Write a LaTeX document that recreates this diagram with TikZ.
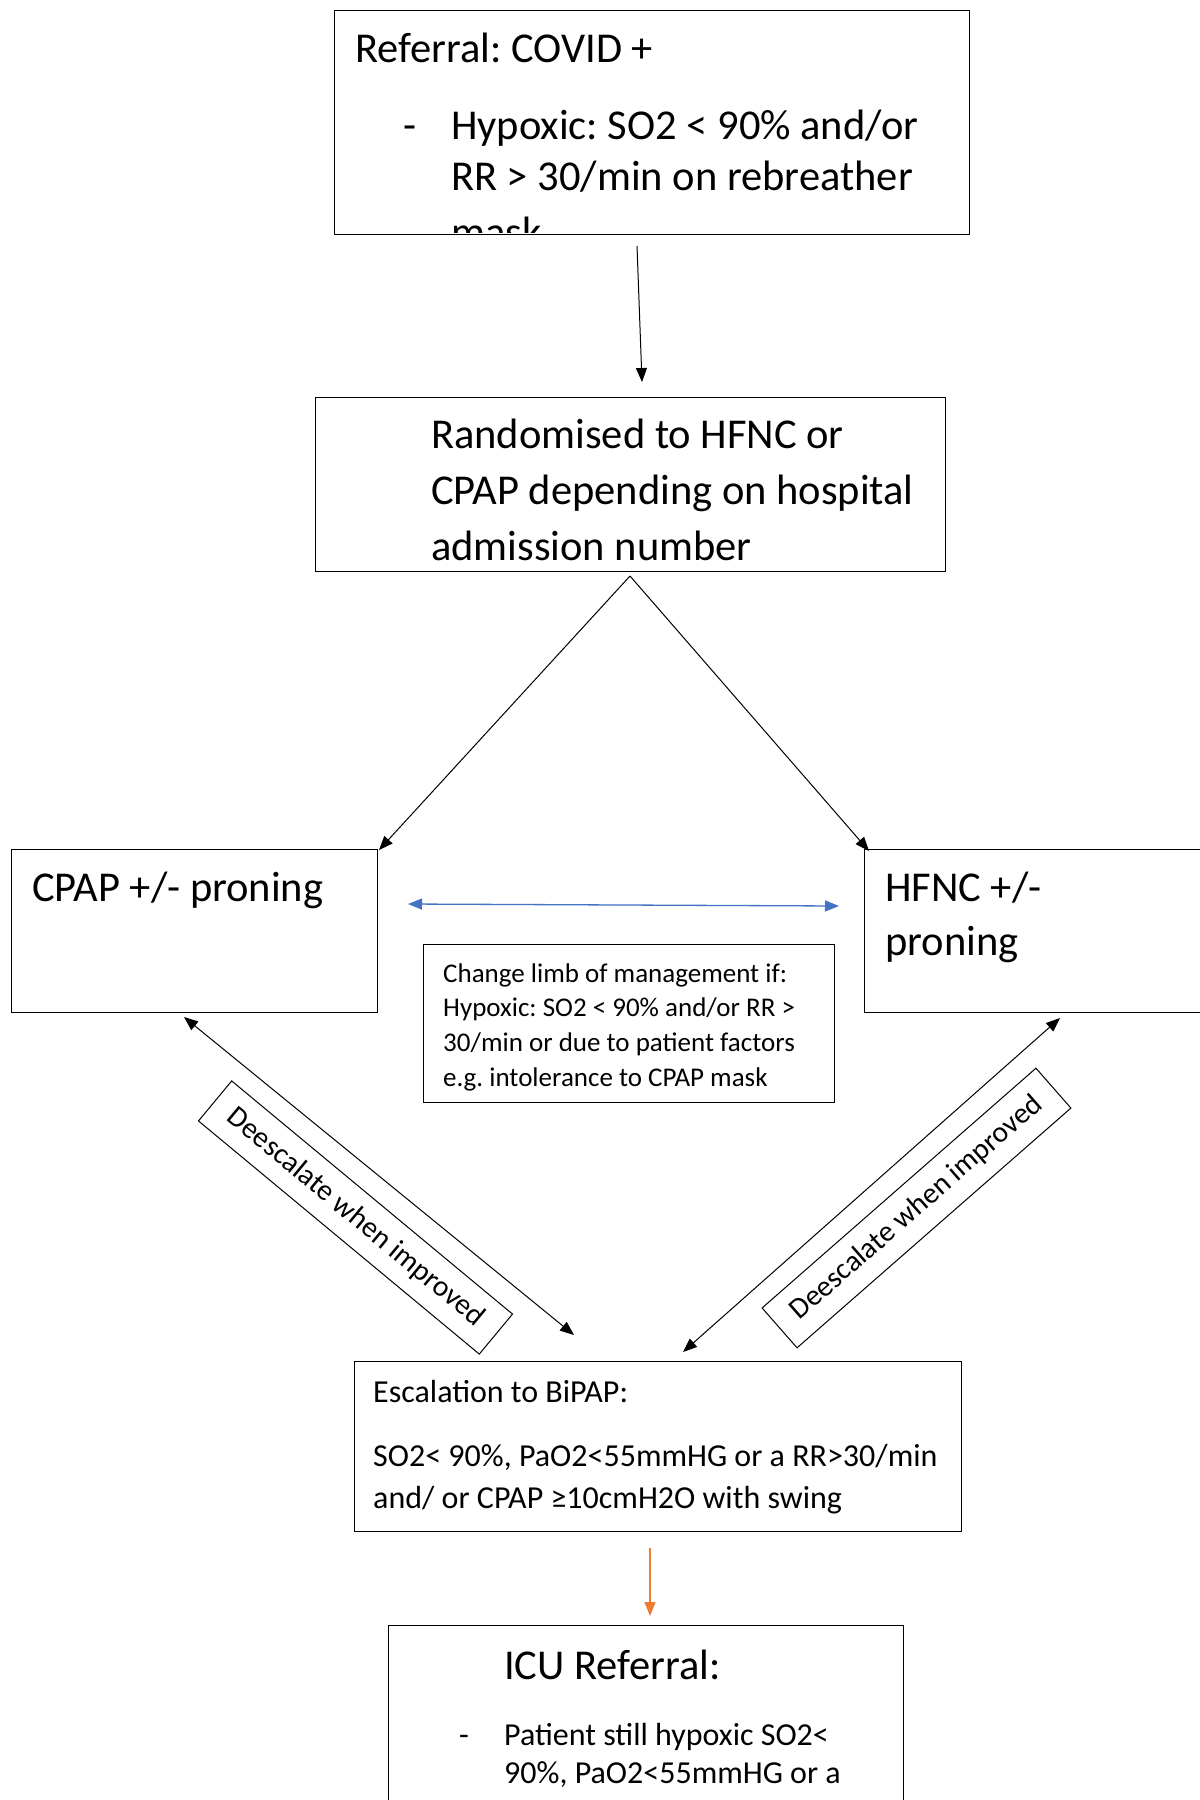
\documentclass[tikz,border=0pt]{standalone}
\usepackage{fontspec}
\setmainfont{Carlito}
\usetikzlibrary{arrows.meta}
\definecolor{arrblue}{HTML}{4472C4}
\definecolor{arrorange}{HTML}{ED7D31}
\begin{document}
\frenchspacing
\begin{tikzpicture}[x=1pt,y=-1pt,
  >={Triangle[length=14pt,width=11pt]},
  box/.style={draw, line width=1.2pt, rectangle, inner sep=0pt, anchor=north west},
  lbl/.style={draw, line width=1pt, rectangle, inner sep=0pt, font=\fontsize{29.5}{35}\selectfont},
  bigtxt/.style={font=\fontsize{42.5}{52}\selectfont, anchor=base west, inner sep=0pt},
  midtxt/.style={font=\fontsize{32}{40}\selectfont, anchor=base west, inner sep=0pt},
  smalltxt/.style={font=\fontsize{27}{34}\selectfont, anchor=base west, inner sep=0pt},
  arr/.style={->, line width=1pt},
  dblarr/.style={<->, line width=1pt}]
\useasboundingbox (0,0) rectangle (1200,1800);
\clip (0,0) rectangle (1200,1800);
\fill[white] (0,0) rectangle (1200,1800);

% boxes
\node[box, minimum width=635pt, minimum height=224pt] (referral) at (334,10) {};
\node[box, minimum width=630pt, minimum height=174pt] (random) at (315,397) {};
\node[box, minimum width=366pt, minimum height=163pt] (cpap) at (11,849) {};
\node[box, minimum width=400pt, minimum height=163pt] (hfnc) at (864,849) {};
\node[box, minimum width=411pt, minimum height=158pt] (change) at (423,944) {};
\node[box, minimum width=607pt, minimum height=170pt] (bipap) at (354,1361) {};
\node[box, minimum width=515pt, minimum height=260pt] (icu) at (388,1625) {};

% top box text (clipped a little inside the frame)
\begin{scope}
\clip (referral.north west) rectangle ([yshift=3pt]referral.south east);
\node[bigtxt] (t1) at (355,62) {Referral: COVID +};
\node[bigtxt] (t2) at (403,139) {-};
\node[bigtxt] (t3) at (451,139) {Hypoxic: SO2 < 90\% and/or};
\node[bigtxt] (t4) at (451,190) {RR > 30/min on rebreather};
\node[bigtxt] (t5) at (451,246) {mask};
\end{scope}

% randomised
\node[bigtxt] (r1) at (431,448) {Randomised to HFNC or};
\node[bigtxt] (r2) at (431,504) {CPAP depending on hospital};
\node[bigtxt] (r3) at (431,560) {admission number};

% cpap / hfnc
\node[bigtxt] (c1) at (32,901) {CPAP +/- proning};
\node[bigtxt] (h1) at (885,901) {HFNC +/-};
\node[bigtxt] (h2) at (885,955) {proning};

% change limb
\node[smalltxt] (ch1) at (443,982) {Change limb of management if:};
\node[smalltxt] (ch2) at (443,1016) {Hypoxic: SO2 < 90\% and/or RR >};
\node[smalltxt] (ch3) at (443,1051) {30/min or due to patient factors};
\node[smalltxt] (ch4) at (443,1086) {e.g. intolerance to CPAP mask};

% bipap
\node[midtxt] (b1) at (373,1402) {Escalation to BiPAP:};
\node[midtxt] (b2) at (373,1466) {SO2< 90\%, PaO2<55mmHG or a RR>30/min};
\node[midtxt] (b3) at (373,1508) {and/ or CPAP ≥10cmH2O with swing};

% icu
\node[bigtxt] (i1) at (504,1679) {ICU Referral:};
\node[midtxt] (i2) at (459,1745) {-};
\node[midtxt] (i3) at (504,1745) {Patient still hypoxic SO2<};
\node[midtxt] (i4) at (504,1783) {90\%, PaO2<55mmHG or a};

% rotated labels
\node[lbl, rotate=-39.7, minimum width=365pt, minimum height=52pt] (deL) at (355.5,1217.5) {Deescalate when improved};
\node[lbl, rotate=41.2, minimum width=364pt, minimum height=53pt] (deR) at (916.5,1208) {Deescalate when improved};

% connector end points
\coordinate (a1s) at (637,246);
\coordinate (a1e) at (642,382);
\coordinate (apex) at (630,576);
\coordinate (cpapTip) at (379,850);
\coordinate (hfncTip) at (869,851);
\coordinate (blueL) at (408,904);
\coordinate (blueR) at (839,906);
\coordinate (lTop) at (184,1017);
\coordinate (lBot) at (574,1335);
\coordinate (rTop) at (1060,1018);
\coordinate (rBot) at (683,1352);
\coordinate (oS) at (650,1548);
\coordinate (oE) at (650,1616);

% connectors
\draw[arr] (a1s) -- (a1e);
\draw[arr] (apex) -- (cpapTip);
\draw[arr] (apex) -- (hfncTip);
\draw[dblarr, draw=arrblue, fill=arrblue, line width=1.3pt] (blueL) -- (blueR);
\draw[dblarr] (lTop) -- (lBot);
\draw[dblarr] (rTop) -- (rBot);
\draw[arr, draw=arrorange, fill=arrorange, line width=1.3pt] (oS) -- (oE);
\end{tikzpicture}
\end{document}
